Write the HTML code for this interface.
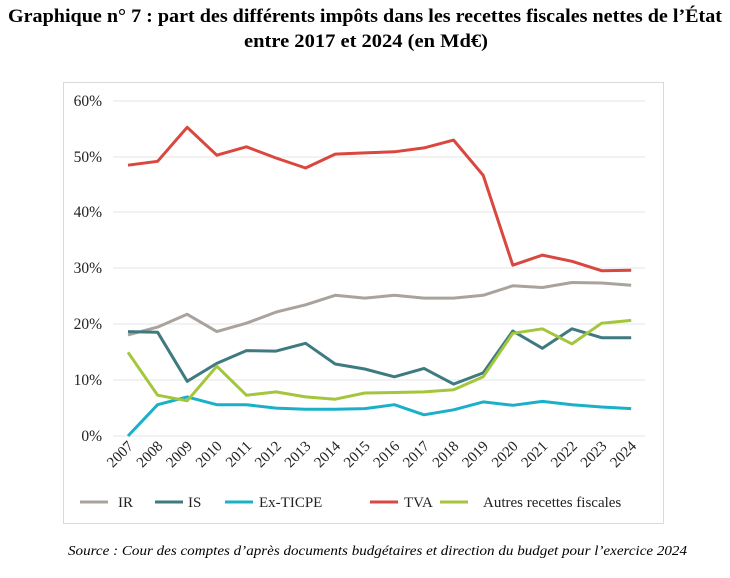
<!DOCTYPE html>
<html><head><meta charset="utf-8"><style>
body{margin:0;background:#fff;width:730px;height:573px;overflow:hidden}
</style></head><body>
<svg width="730" height="573" xmlns="http://www.w3.org/2000/svg" font-family="Liberation Serif, serif">
<text x="8" y="22" font-weight="bold" font-size="19" textLength="714" lengthAdjust="spacingAndGlyphs">Graphique n° 7 :  part des différents impôts dans les recettes fiscales nettes de l’État</text>
<text x="244" y="47" font-weight="bold" font-size="19" textLength="244" lengthAdjust="spacingAndGlyphs">entre 2017 et 2024 (en Md€)</text>
<rect x="63.5" y="82.5" width="600" height="441" fill="#fff" stroke="#d9d9d9"/>
<g stroke="#e4e4e4" stroke-width="1">
<line x1="113" x2="645" y1="101" y2="101"/><line x1="113" x2="645" y1="157" y2="157"/>
<line x1="113" x2="645" y1="212" y2="212"/><line x1="113" x2="645" y1="268" y2="268"/>
<line x1="113" x2="645" y1="324" y2="324"/><line x1="113" x2="645" y1="380" y2="380"/>
<line x1="113" x2="645" y1="436" y2="436"/>
</g>
<g font-size="15.5" text-anchor="end" fill="#222">
<text x="102" y="106">60%</text><text x="102" y="162">50%</text><text x="102" y="217">40%</text>
<text x="102" y="273">30%</text><text x="102" y="329">20%</text><text x="102" y="385">10%</text>
<text x="102" y="441">0%</text>
</g>
<g id="lines" fill="none" stroke-width="3" stroke-linejoin="round"></g>
<g id="xl" font-size="15" fill="#222"></g>
<g font-size="15" fill="#222">
<line x1="80" x2="108" y1="502" y2="502" stroke="#a9a39c" stroke-width="3"/><text x="118" y="507">IR</text>
<line x1="155" x2="183" y1="502" y2="502" stroke="#3e7a80" stroke-width="3"/><text x="188" y="507">IS</text>
<line x1="225" x2="253" y1="502" y2="502" stroke="#1ab0c9" stroke-width="3"/><text x="259" y="507">Ex-TICPE</text>
<line x1="370" x2="398" y1="502" y2="502" stroke="#d9473f" stroke-width="3"/><text x="404" y="507">TVA</text>
<line x1="440" x2="468" y1="502" y2="502" stroke="#a4c63c" stroke-width="3"/><text x="483" y="507">Autres recettes fiscales</text>
</g>
<text x="68" y="555" font-style="italic" font-size="14" textLength="619" lengthAdjust="spacingAndGlyphs">Source : Cour des comptes d’après documents budgétaires et direction du budget pour l’exercice 2024</text>
</svg>
<script>
const d={
"#a9a39c":[18.1,19.5,21.8,18.7,20.2,22.2,23.5,25.2,24.7,25.2,24.7,24.7,25.2,26.9,26.6,27.5,27.4,27.0],
"#3e7a80":[18.7,18.6,9.8,13,15.3,15.2,16.6,12.9,12,10.6,12.1,9.3,11.3,18.8,15.7,19.2,17.6,17.6],
"#1ab0c9":[0,5.6,7,5.6,5.6,5,4.8,4.8,4.9,5.6,3.8,4.7,6.1,5.5,6.2,5.6,5.2,4.9],
"#d9473f":[48.5,49.2,55.3,50.3,51.8,49.8,48,50.5,50.7,50.9,51.6,53,46.7,30.6,32.4,31.3,29.6,29.7],
"#a4c63c":[15,7.3,6.3,12.5,7.3,7.9,7.0,6.6,7.7,7.8,7.9,8.3,10.6,18.4,19.2,16.5,20.2,20.7]};
const X=i=>128+i*29.6,Y=v=>436-v*5.583;
let h="";for(const c in d){h+=`<polyline stroke="${c}" points="${d[c].map((v,i)=>X(i).toFixed(1)+","+Y(v).toFixed(1)).join(" ")}"/>`;}
document.getElementById("lines").innerHTML=h;
let t="";for(let i=0;i<18;i++){const x=X(i)+6,y=447;t+=`<text text-anchor="end" transform="translate(${x},${y}) rotate(-45)">${2007+i}</text>`;}
document.getElementById("xl").innerHTML=t;
</script>
</body></html>
